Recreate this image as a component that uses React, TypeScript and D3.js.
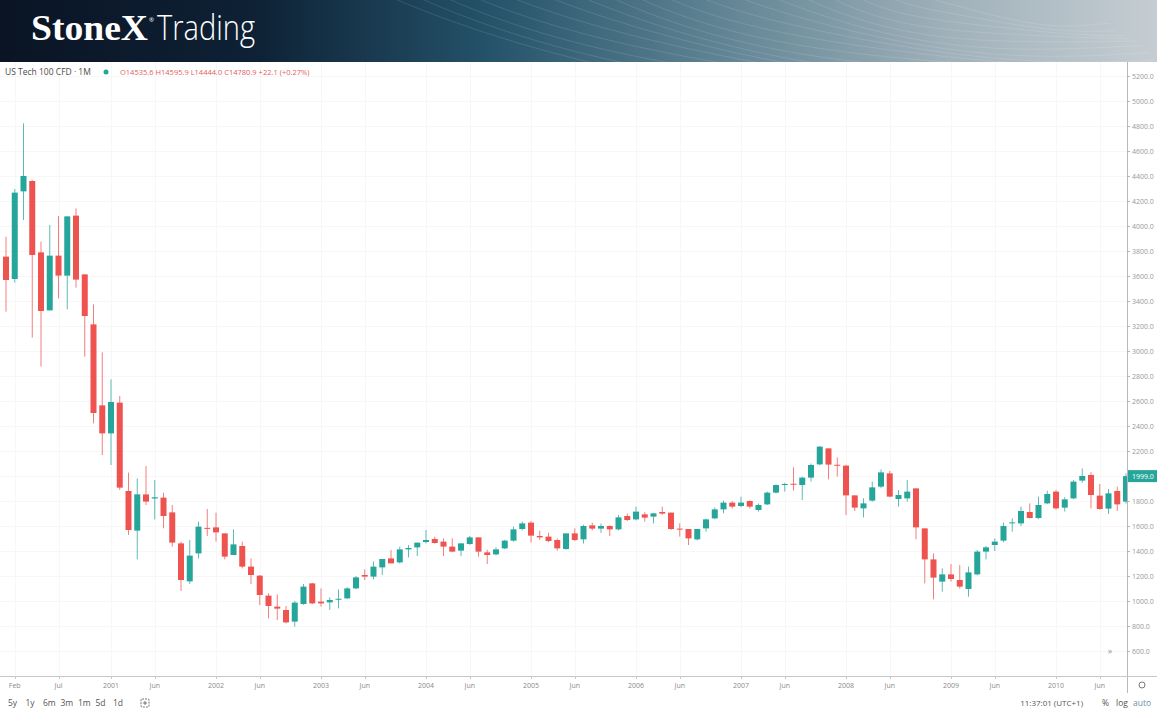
import { useMemo } from "react";
import * as d3 from "d3";

// Monthly OHLC, Jan 2000 .. Sep 2010
const OPENS = [
  3755, 3576, 4277, 4360, 3789, 3325, 3763, 3603, 4083, 3613, 3213, 2565,
  2341, 2587, 1880, 1563, 1853, 1820, 1827, 1709, 1461, 1157, 1381, 1585,
  1589, 1541, 1368, 1440, 1275, 1203, 1043, 955, 928, 835, 976, 1141,
  995, 989, 1011, 1021, 1101, 1208, 1195, 1269, 1341, 1309, 1413, 1429,
  1472, 1496, 1475, 1435, 1403, 1456, 1509, 1389, 1373, 1421, 1483, 1576,
  1627, 1520, 1515, 1488, 1416, 1541, 1493, 1605, 1579, 1600, 1573, 1680,
  1653, 1693, 1675, 1712, 1707, 1579, 1576, 1493, 1581, 1661, 1733, 1787,
  1760, 1800, 1728, 1773, 1867, 1930, 1938, 1928, 1987, 2093, 2221, 2090,
  2083, 1845, 1741, 1803, 1915, 2021, 1816, 1821, 1901, 1581, 1333, 1155,
  1213, 1168, 1096, 1213, 1395, 1448, 1483, 1625, 1621, 1712, 1664, 1781,
  1875, 1747, 1821, 1963, 2008, 1843, 1739, 1880, 1795,
];
const HIGHS = [
  3915, 4296, 4821, 4368, 3875, 4008, 4080, 4077, 4141, 3613, 3373, 2989,
  2773, 2640, 2027, 1981, 2080, 1968, 1867, 1768, 1475, 1488, 1635, 1736,
  1707, 1541, 1573, 1475, 1341, 1208, 1061, 1053, 960, 1000, 1136, 1145,
  1101, 1029, 1093, 1110, 1200, 1253, 1315, 1336, 1408, 1435, 1448, 1467,
  1568, 1515, 1501, 1501, 1461, 1520, 1509, 1410, 1430, 1490, 1595, 1635,
  1640, 1563, 1547, 1500, 1541, 1581, 1610, 1627, 1620, 1605, 1688, 1700,
  1755, 1710, 1705, 1755, 1707, 1621, 1576, 1576, 1660, 1749, 1803, 1800,
  1835, 1805, 1780, 1875, 1933, 1945, 2069, 1995, 2100, 2240, 2221, 2149,
  2090, 1845, 1821, 1955, 2053, 2040, 1888, 1968, 1901, 1581, 1381, 1261,
  1296, 1288, 1275, 1408, 1440, 1501, 1627, 1661, 1755, 1781, 1835, 1883,
  1890, 1830, 1968, 2061, 2030, 1936, 1896, 1915, 2021,
];
const LOWS = [
  3315, 3547, 4048, 3107, 2875, 3325, 3421, 3333, 3507, 2955, 2421, 2168,
  2088, 1888, 1528, 1333, 1768, 1653, 1581, 1435, 1080, 1136, 1341, 1520,
  1475, 1333, 1368, 1261, 1136, 968, 861, 848, 821, 795, 970, 975,
  955, 928, 941, 1015, 1095, 1168, 1173, 1208, 1330, 1300, 1349, 1360,
  1460, 1458, 1360, 1390, 1360, 1450, 1355, 1296, 1365, 1415, 1475, 1565,
  1467, 1488, 1470, 1403, 1410, 1480, 1460, 1565, 1545, 1520, 1565, 1640,
  1645, 1635, 1621, 1690, 1568, 1515, 1448, 1485, 1555, 1655, 1701, 1740,
  1750, 1740, 1715, 1768, 1860, 1875, 1883, 1808, 1955, 2085, 1973, 1995,
  1688, 1720, 1669, 1795, 1905, 1830, 1755, 1795, 1493, 1141, 1013, 1075,
  1155, 1100, 1035, 1205, 1333, 1400, 1470, 1555, 1600, 1660, 1655, 1775,
  1730, 1715, 1815, 1947, 1741, 1730, 1696, 1720, 1780,
];
const CLOSES = [
  3568, 4267, 4400, 3768, 3320, 3763, 3603, 4077, 3571, 3280, 2504, 2341,
  2592, 1907, 1568, 1853, 1795, 1830, 1680, 1467, 1168, 1363, 1595, 1577,
  1549, 1355, 1453, 1275, 1208, 1048, 960, 939, 829, 987, 1115, 981,
  981, 1008, 1018, 1101, 1189, 1195, 1275, 1336, 1301, 1413, 1424, 1467,
  1488, 1464, 1435, 1395, 1461, 1509, 1395, 1368, 1413, 1483, 1573, 1621,
  1523, 1509, 1480, 1421, 1541, 1488, 1600, 1579, 1600, 1573, 1669, 1648,
  1715, 1667, 1701, 1699, 1576, 1576, 1501, 1576, 1653, 1733, 1787, 1755,
  1787, 1755, 1768, 1867, 1928, 1936, 1930, 1987, 2088, 2235, 2091, 2085,
  1845, 1747, 1781, 1909, 2029, 1835, 1848, 1875, 1589, 1333, 1187, 1213,
  1176, 1115, 1229, 1395, 1429, 1475, 1600, 1629, 1720, 1664, 1768, 1856,
  1741, 1813, 1955, 2000, 1848, 1736, 1861, 1773, 1999,
];

const X_LABELS = [
  { i: 1, label: "Feb" }, { i: 6, label: "Jul" },
  { i: 12, label: "2001" }, { i: 17, label: "Jun" },
  { i: 24, label: "2002" }, { i: 29, label: "Jun" },
  { i: 36, label: "2003" }, { i: 41, label: "Jun" },
  { i: 48, label: "2004" }, { i: 53, label: "Jun" },
  { i: 60, label: "2005" }, { i: 65, label: "Jun" },
  { i: 72, label: "2006" }, { i: 77, label: "Jun" },
  { i: 84, label: "2007" }, { i: 89, label: "Jun" },
  { i: 96, label: "2008" }, { i: 101, label: "Jun" },
  { i: 108, label: "2009" }, { i: 113, label: "Jun" },
  { i: 120, label: "2010" }, { i: 125, label: "Jun" },
];
const Y_TICKS = d3.range(600, 5201, 200);
const PERIODS = ["5y", "1y", "6m", "3m", "1m", "5d", "1d"];
const LAST_PRICE = 1999.0;

const W = 1157;
const H = 720;
const BANNER_H = 62;
const PLOT_R = 1127;
const AXIS_Y = 676;
const UP = "#26a69a";
const DOWN = "#ef5350";
const FONT = "'Open Sans', 'Noto Sans', sans-serif";

export default function App() {
  const x = useMemo(() => d3.scaleLinear().domain([0, 128]).range([6, 1126]), []);
  const y = useMemo(() => d3.scaleLinear().domain([600, 5200]).range([651, 76]), []);

  const candles = OPENS.map((o, i) => ({
    i, o, h: HIGHS[i], l: LOWS[i], c: CLOSES[i],
  }));

  // decorative contour lines on the banner
  const waves = d3.range(18).map((k) => {
    const r = 120 + k * 26;
    const cx = 1080, cy = -r * 0.35;
    const line = d3.line<[number, number]>().curve(d3.curveBasis);
    const pts: [number, number][] = d3.range(0, 13).map((j) => {
      const a = Math.PI * 0.45 + (j / 12) * Math.PI * 0.65;
      return [cx + Math.cos(a) * r * 1.6, cy + Math.sin(a) * r * 0.55 + Math.sin(j + k) * 3];
    });
    return line(pts);
  });

  return (
    <svg
      width={W}
      height={H}
      style={{ position: "absolute", left: 0, top: 0, background: "#fff" }}
      fontFamily={FONT}
    >
      <defs>
        <linearGradient id="banner" x1="0" x2="1" y1="0" y2="0">
          <stop offset="0" stopColor="#0a1424" />
          <stop offset="0.22" stopColor="#0e2135" />
          <stop offset="0.42" stopColor="#245269" />
          <stop offset="0.62" stopColor="#5f8393" />
          <stop offset="0.82" stopColor="#a0b1ba" />
          <stop offset="1" stopColor="#c5cdd2" />
        </linearGradient>
        <clipPath id="bannerClip">
          <rect x={0} y={0} width={W} height={BANNER_H} />
        </clipPath>
        <clipPath id="plotClip">
          <rect x={0} y={BANNER_H} width={PLOT_R} height={AXIS_Y - BANNER_H} />
        </clipPath>
      </defs>

      {/* banner */}
      <rect x={0} y={0} width={W} height={BANNER_H} fill="url(#banner)" />
      <g clipPath="url(#bannerClip)" fill="none" stroke="#ffffff" strokeOpacity={0.15} strokeWidth={0.8}>
        {waves.map((d, k) => <path key={k} d={d ?? ""} />)}
      </g>
      <text x={31} y={40} fill="#fff" fontFamily="'Liberation Serif', 'DejaVu Serif', serif"
        fontWeight={700} fontSize={36} textLength={117} lengthAdjust="spacingAndGlyphs">StoneX</text>
      <text x={149} y={22} fill="#fff" fontSize={6}>®</text>
      <text x={157} y={40} fill="#fff" fontFamily="'Open Sans', sans-serif" fontWeight={300}
        fontSize={34} textLength={98} lengthAdjust="spacingAndGlyphs">Trading</text>

      {/* grid (very faint) */}
      <g stroke="#f7f7f8" strokeWidth={1}>
        {Y_TICKS.map((t) => (
          <line key={t} x1={0} x2={PLOT_R} y1={Math.round(y(t)) + 0.5} y2={Math.round(y(t)) + 0.5} />
        ))}
        {X_LABELS.map((t) => (
          <line key={t.i} x1={Math.round(x(t.i)) + 0.5} x2={Math.round(x(t.i)) + 0.5} y1={BANNER_H} y2={AXIS_Y} />
        ))}
      </g>

      {/* candles */}
      <g clipPath="url(#plotClip)">
        {candles.map((d) => {
          const up = d.c >= d.o;
          const col = up ? UP : DOWN;
          const cx = x(d.i);
          const top = y(Math.max(d.o, d.c));
          const bot = y(Math.min(d.o, d.c));
          return (
            <g key={d.i}>
              <line x1={cx} x2={cx} y1={y(d.h)} y2={y(d.l)} stroke={col} strokeOpacity={0.75} strokeWidth={1} />
              <rect x={cx - 3} y={top} width={6} height={Math.max(1, bot - top)} fill={col} />
            </g>
          );
        })}
      </g>

      {/* legend */}
      <text x={5} y={75} fontSize={8.5} fill="#4a4a4a">US Tech 100 CFD · 1M</text>
      <circle cx={106} cy={72} r={2.5} fill={UP} />
      <text x={120} y={75} fontSize={7.5} fill="#e0605a">
        O14535.6  H14595.9  L14444.0  C14780.9  +22.1 (+0.27%)
      </text>

      {/* right price axis */}
      <line x1={PLOT_R + 0.5} x2={PLOT_R + 0.5} y1={BANNER_H} y2={693} stroke="#b8b8b8" />
      {Y_TICKS.map((t) => (
        <g key={t}>
          <line x1={PLOT_R} x2={PLOT_R + 3} y1={Math.round(y(t)) + 0.5} y2={Math.round(y(t)) + 0.5} stroke="#b8b8b8" />
          <text x={1132} y={y(t) + 2.5} fontSize={7} fill="#999">{t.toFixed(1)}</text>
        </g>
      ))}
      <rect x={PLOT_R + 1} y={y(LAST_PRICE) - 6} width={W - PLOT_R - 1} height={12} fill={UP} />
      <text x={1132} y={y(LAST_PRICE) + 2.5} fontSize={7} fill="#fff">{LAST_PRICE.toFixed(1)}</text>
      <text x={1110} y={654} fontSize={9} fill="#999" textAnchor="middle">»</text>

      {/* time axis */}
      <line x1={0} x2={W} y1={AXIS_Y + 0.5} y2={AXIS_Y + 0.5} stroke="#c8c8c8" />
      {X_LABELS.map((t) => (
        <g key={t.i}>
          <line x1={Math.round(x(t.i)) + 0.5} x2={Math.round(x(t.i)) + 0.5} y1={AXIS_Y} y2={AXIS_Y + 3} stroke="#c8c8c8" />
          <text x={x(t.i)} y={688} fontSize={7} fill="#8a8a8a" textAnchor="middle">{t.label}</text>
        </g>
      ))}
      <circle cx={1142} cy={685} r={3} fill="none" stroke="#777" strokeWidth={1} />

      {/* bottom toolbar */}
      {PERIODS.map((p, k) => (
        <text key={p} x={8 + k * 17.5} y={706} fontSize={8.5} fill="#555">{p}</text>
      ))}
      <g stroke="#666" fill="none" strokeWidth={0.9}>
        <rect x={141} y={699} width={8} height={8} rx={1} strokeDasharray="2 1" />
        <path d="M143 703 h4 M145 701 v4" />
      </g>
      <text x={1083} y={706} fontSize={8} fill="#555" textAnchor="end">11:37:01 (UTC+1)</text>
      <text x={1102} y={706} fontSize={8.5} fill="#555">%</text>
      <text x={1116} y={706} fontSize={8.5} fill="#555">log</text>
      <text x={1133} y={706} fontSize={8.5} fill="#6a8fa3">auto</text>
    </svg>
  );
}
